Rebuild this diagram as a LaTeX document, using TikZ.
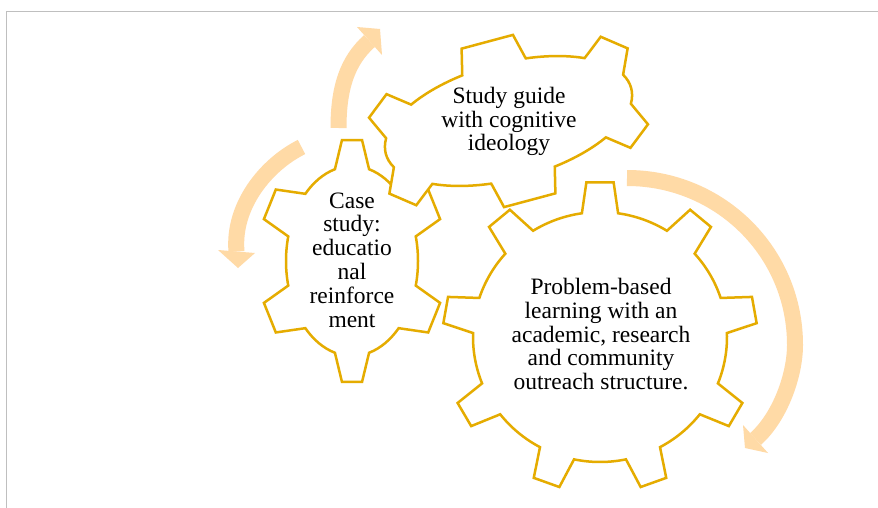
\documentclass[tikz,border=0pt]{standalone}
\usepackage{fontspec}
\setmainfont{Liberation Serif}
\definecolor{gearc}{RGB}{229,172,0}
\definecolor{arrc}{RGB}{255,218,166}
\definecolor{framec}{RGB}{191,191,191}
\tikzset{
  gear/.style={draw=gearc, line width=2.5pt, fill=white},
  band/.style={draw=arrc, line width=16pt, line cap=butt},
  head/.style={fill=arrc},
  lbl/.style={align=center, inner sep=0pt, font=\fontsize{23.5}{23.8}\selectfont, text=black},
}
\newcommand{\drawgear}[1]{%
  \pgfmathsetmacro\gSp{360/\gN}
  \foreach \k in {1,...,\gN}{%
    \pgfmathsetmacro\gq{\gT+(\k-1)*\gSp}
    \pgfmathsetmacro\gxa{\gA*cos(\gq-\gD)}
    \pgfmathsetmacro\gya{\gB*sin(\gq-\gD)}
    \pgfmathsetmacro\gxb{\gA*cos(\gq+\gD)}
    \pgfmathsetmacro\gyb{\gB*sin(\gq+\gD)}
    \pgfmathsetmacro\gnx{\gB*cos(\gq)/100}
    \pgfmathsetmacro\gny{\gA*sin(\gq)/100}
    \pgfmathsetmacro\gnl{sqrt(\gnx*\gnx+\gny*\gny)}
    \pgfmathsetmacro\gtx{(\gxb-\gxa)/100}
    \pgfmathsetmacro\gty{(\gyb-\gya)/100}
    \pgfmathsetmacro\gtl{sqrt(\gtx*\gtx+\gty*\gty)}
    \coordinate (#1-\k-a) at (\gxa,\gya);
    \coordinate (#1-\k-b) at ({\gxa+\gH*\gnx/\gnl+\gS*\gtx/\gtl},{\gya+\gH*\gny/\gnl+\gS*\gty/\gtl});
    \coordinate (#1-\k-c) at ({\gxb+\gH*\gnx/\gnl-\gS*\gtx/\gtl},{\gyb+\gH*\gny/\gnl-\gS*\gty/\gtl});
    \coordinate (#1-\k-d) at (\gxb,\gyb);
  }
  \draw[gear] (#1-1-a) \foreach \k in {1,...,\gN}{ -- (#1-\k-b) -- (#1-\k-c) -- (#1-\k-d) arc[start angle={\gT+(\k-1)*\gSp+\gD}, end angle={\gT+\k*\gSp-\gD}, x radius=\gA, y radius=\gB]} -- cycle;
}
\begin{document}
\begin{tikzpicture}[x=1pt,y=1pt]
\useasboundingbox (0,0) rectangle (878,-508);
\fill[white] (0,0) rectangle (878,-508);
% frame
\draw[framec, line width=1.3pt] (6.7,-508) -- (6.7,-11.3) -- (878,-11.3);
% arrows
\coordinate (a1s) at (338.5,-128);
\coordinate (a1e) at (369.5,-41);
\draw[band] (a1s) .. controls (338.5,-88) and (347.1,-61) .. (a1e);
\fill[head] (357,-27) -- (380,-29) -- (382,-55) -- cycle;
\coordinate (a2s) at (301.5,-147);
\coordinate (a2e) at (236.5,-251.5);
\draw[band] (a2s) .. controls (265.7,-164.9) and (232.5,-206) .. (a2e);
\fill[head] (218,-250) -- (238,-268) -- (255,-253) -- cycle;
\coordinate (a3s) at (627,-178);
\coordinate (a3m) at (795,-345);
\coordinate (a3e) at (755.5,-439);
\draw[band] (a3s) .. controls (719.8,-178) and (795,-252.2) .. (a3m) .. controls (795,-375) and (780.2,-417) .. (a3e);
\fill[head] (743,-425) -- (745,-448) -- (768,-453) -- cycle;
% big gear
\begin{scope}[shift={(600,-337)}]
\def\gA{127}\def\gB{125}\def\gN{9}\def\gT{90}\def\gD{8.2}\def\gH{31}\def\gS{4.5}
\drawgear{g1}
\end{scope}
% medium gear
\begin{scope}[shift={(352,-261)}]
\def\gA{66}\def\gB{95}\def\gN{6}\def\gT{90}\def\gD{15}\def\gH{29}\def\gS{7}
\drawgear{g2}
\end{scope}
% top gear
\begin{scope}[shift={(508.5,-121)}, rotate=15]
\def\gA{127}\def\gB{58}\def\gN{6}\def\gT{90}\def\gD{15}\def\gH{26}\def\gS{6.3}
\drawgear{g3}
\end{scope}
% labels
\node[lbl] (t3) at (509,-121.4) {Study guide\\with cognitive\\ideology};
\node[lbl] (t2) at (352,-260) {Case\\study:\\educatio\\nal\\reinforce\\ment};
\node[lbl] (t1) at (601,-334.2) {Problem-based\\learning with an\\academic, research\\and community\\outreach structure.};
\end{tikzpicture}
\end{document}
